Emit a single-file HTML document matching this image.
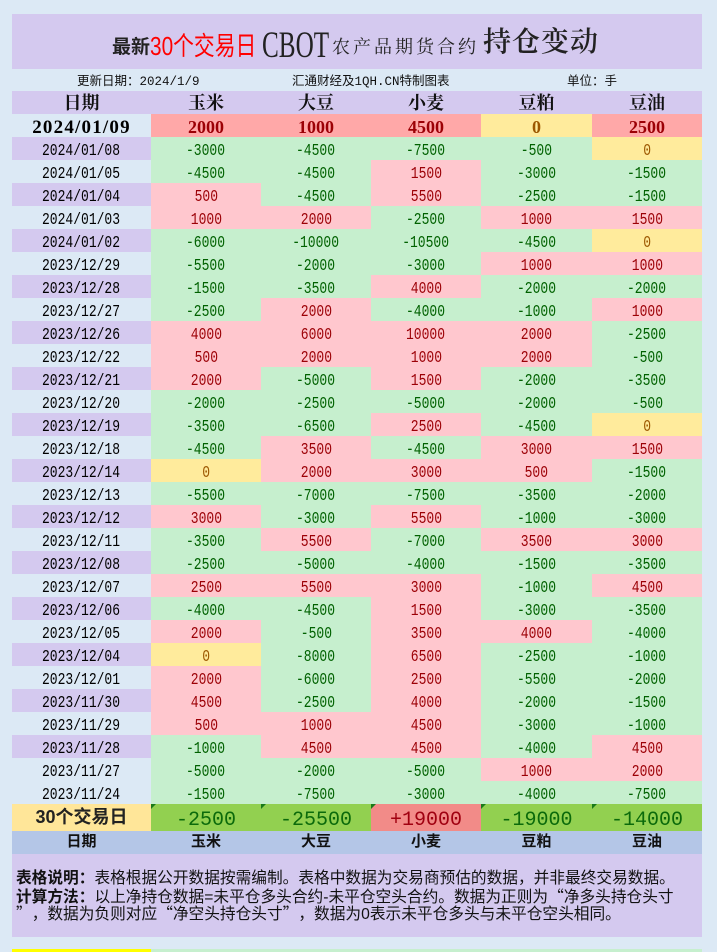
<!DOCTYPE html>
<html><head><meta charset="utf-8">
<style>
*{margin:0;padding:0;box-sizing:border-box}
html,body{width:717px;height:952px;overflow:hidden;background:#dce9f5}
body{position:relative;font-family:"Liberation Sans","Noto Sans CJK SC",sans-serif}
.abs{position:absolute;white-space:nowrap}
.title{left:12px;top:14px;width:690px;height:55px;background:#d4c9ef}
.seg{position:absolute;white-space:nowrap;line-height:1}
.row{position:absolute;left:12px;height:23px;display:flex;width:690px}
.row>div{height:100%;text-align:center;line-height:23px;overflow:hidden}
.row>div:nth-child(1){width:139px}
.row>div:nth-child(2){width:110px}
.row>div:nth-child(3){width:110px}
.row>div:nth-child(4){width:110px}
.row>div:nth-child(5){width:111px}
.row>div:nth-child(6){width:110px}
.dr>div{font-family:"Liberation Mono",monospace;font-size:17px}
.dr>div span{display:inline-block;transform:scaleX(.765);position:relative;top:2.5px}
.pu{background:#d4c9ef}
.p{background:#ffc7ce;color:#9c0006}
.g{background:#c6efce;color:#006100}
.y{background:#ffeb9c;color:#9c5700}
.hdr{top:91px;background:#d4c9ef}
.hdr>div{font-family:"Liberation Serif","Noto Serif CJK SC",serif;font-weight:bold;font-size:18px;color:#111}
.hdr>div span{position:relative;top:1px}
.first{top:114px}
.first>div{font-family:"Liberation Serif",serif;font-weight:bold;font-size:18px}
.first>div span{position:relative;top:2px}
.first .fd{font-size:19px;letter-spacing:1.2px;color:#000}
.first .p{background:#ffa8a8}
.sum{top:804px;height:27px}
.sum>div{line-height:27px;position:relative}
.sum .sd{background:#ffe699;font-family:"Liberation Sans","Noto Sans CJK SC",sans-serif;font-weight:bold;font-size:18px;color:#222}
.sum .sg{background:#92d050;color:#0b6a0b}
.sum .sp{background:#f28b88;color:#a00010}
.sum .v span{font-family:"Liberation Mono",monospace;font-size:20px;position:relative;top:3px}
.tri{position:absolute;left:0;top:0;width:0;height:0;border-top:5px solid #1a7a1a;border-right:5px solid transparent}
.bh{top:831px;background:#b4c6e7}
.bh>div{font-family:"Liberation Sans","Noto Sans CJK SC",sans-serif;font-weight:bold;font-size:15px;line-height:21px;color:#111}
.notes{left:12px;top:854px;width:690px;height:83px;background:#d4c9ef;overflow:hidden}
.nl{position:absolute;left:4px;height:17px;line-height:17px;font-size:15.7px;white-space:nowrap;color:#111;font-family:"Liberation Sans","Noto Sans CJK SC",sans-serif}
.ql{display:inline-block;width:1em;text-align:right;font-family:"Noto Sans CJK SC",sans-serif}
.qr{display:inline-block;width:1em;text-align:left;font-family:"Noto Sans CJK SC",sans-serif}
.info{top:71px;line-height:22px;font-size:12.5px;font-family:"Liberation Mono","Noto Sans CJK SC",monospace;color:#111}
</style></head><body>

<div class="abs title"></div>
<span class="seg" style="left:112px;top:38px;font-size:19px;font-weight:bold;font-family:'Liberation Sans','Noto Sans CJK SC',sans-serif;color:#222">最新</span>
<span class="seg" style="left:150px;top:32.5px;font-size:26px;color:#ff0000;font-family:'Liberation Sans','Noto Sans CJK SC',sans-serif;transform:scaleX(.80);transform-origin:left center">30个交易日</span>
<span class="seg" style="left:262px;top:26.5px;font-size:37px;color:#222;font-family:'Liberation Serif',serif;transform:scaleX(.68);transform-origin:left center">CBOT</span>
<span class="seg" style="left:332px;top:38px;font-size:18px;letter-spacing:3px;color:#222;font-family:'Liberation Serif','Noto Serif CJK SC',serif">农产品期货合约</span>
<span class="seg" style="left:483px;top:29px;font-size:28px;letter-spacing:1px;font-weight:600;color:#222;font-family:'Liberation Serif','Noto Serif CJK SC',serif">持仓变动</span>

<div class="abs info" style="left:77px">更新日期：2024/1/9</div>
<div class="abs info" style="left:292px">汇通财经及1QH.CN特制图表</div>
<div class="abs info" style="left:567px">单位：手</div>

<div class="row hdr"><div><span>日期</span></div><div><span>玉米</span></div><div><span>大豆</span></div><div><span>小麦</span></div><div><span>豆粕</span></div><div><span>豆油</span></div></div>

<div class="row first"><div class="fd"><span>2024/01/09</span></div><div class="p"><span>2000</span></div><div class="p"><span>1000</span></div><div class="p"><span>4500</span></div><div class="y"><span>0</span></div><div class="p"><span>2500</span></div></div>

<div class="row dr" style="top:137px"><div class="pu"><span>2024/01/08</span></div><div class="g"><span>-3000</span></div><div class="g"><span>-4500</span></div><div class="g"><span>-7500</span></div><div class="g"><span>-500</span></div><div class="y"><span>0</span></div></div>
<div class="row dr" style="top:160px"><div><span>2024/01/05</span></div><div class="g"><span>-4500</span></div><div class="g"><span>-4500</span></div><div class="p"><span>1500</span></div><div class="g"><span>-3000</span></div><div class="g"><span>-1500</span></div></div>
<div class="row dr" style="top:183px"><div class="pu"><span>2024/01/04</span></div><div class="p"><span>500</span></div><div class="g"><span>-4500</span></div><div class="p"><span>5500</span></div><div class="g"><span>-2500</span></div><div class="g"><span>-1500</span></div></div>
<div class="row dr" style="top:206px"><div><span>2024/01/03</span></div><div class="p"><span>1000</span></div><div class="p"><span>2000</span></div><div class="g"><span>-2500</span></div><div class="p"><span>1000</span></div><div class="p"><span>1500</span></div></div>
<div class="row dr" style="top:229px"><div class="pu"><span>2024/01/02</span></div><div class="g"><span>-6000</span></div><div class="g"><span>-10000</span></div><div class="g"><span>-10500</span></div><div class="g"><span>-4500</span></div><div class="y"><span>0</span></div></div>
<div class="row dr" style="top:252px"><div><span>2023/12/29</span></div><div class="g"><span>-5500</span></div><div class="g"><span>-2000</span></div><div class="g"><span>-3000</span></div><div class="p"><span>1000</span></div><div class="p"><span>1000</span></div></div>
<div class="row dr" style="top:275px"><div class="pu"><span>2023/12/28</span></div><div class="g"><span>-1500</span></div><div class="g"><span>-3500</span></div><div class="p"><span>4000</span></div><div class="g"><span>-2000</span></div><div class="g"><span>-2000</span></div></div>
<div class="row dr" style="top:298px"><div><span>2023/12/27</span></div><div class="g"><span>-2500</span></div><div class="p"><span>2000</span></div><div class="g"><span>-4000</span></div><div class="g"><span>-1000</span></div><div class="p"><span>1000</span></div></div>
<div class="row dr" style="top:321px"><div class="pu"><span>2023/12/26</span></div><div class="p"><span>4000</span></div><div class="p"><span>6000</span></div><div class="p"><span>10000</span></div><div class="p"><span>2000</span></div><div class="g"><span>-2500</span></div></div>
<div class="row dr" style="top:344px"><div><span>2023/12/22</span></div><div class="p"><span>500</span></div><div class="p"><span>2000</span></div><div class="p"><span>1000</span></div><div class="p"><span>2000</span></div><div class="g"><span>-500</span></div></div>
<div class="row dr" style="top:367px"><div class="pu"><span>2023/12/21</span></div><div class="p"><span>2000</span></div><div class="g"><span>-5000</span></div><div class="p"><span>1500</span></div><div class="g"><span>-2000</span></div><div class="g"><span>-3500</span></div></div>
<div class="row dr" style="top:390px"><div><span>2023/12/20</span></div><div class="g"><span>-2000</span></div><div class="g"><span>-2500</span></div><div class="g"><span>-5000</span></div><div class="g"><span>-2000</span></div><div class="g"><span>-500</span></div></div>
<div class="row dr" style="top:413px"><div class="pu"><span>2023/12/19</span></div><div class="g"><span>-3500</span></div><div class="g"><span>-6500</span></div><div class="p"><span>2500</span></div><div class="g"><span>-4500</span></div><div class="y"><span>0</span></div></div>
<div class="row dr" style="top:436px"><div><span>2023/12/18</span></div><div class="g"><span>-4500</span></div><div class="p"><span>3500</span></div><div class="g"><span>-4500</span></div><div class="p"><span>3000</span></div><div class="p"><span>1500</span></div></div>
<div class="row dr" style="top:459px"><div class="pu"><span>2023/12/14</span></div><div class="y"><span>0</span></div><div class="p"><span>2000</span></div><div class="p"><span>3000</span></div><div class="p"><span>500</span></div><div class="g"><span>-1500</span></div></div>
<div class="row dr" style="top:482px"><div><span>2023/12/13</span></div><div class="g"><span>-5500</span></div><div class="g"><span>-7000</span></div><div class="g"><span>-7500</span></div><div class="g"><span>-3500</span></div><div class="g"><span>-2000</span></div></div>
<div class="row dr" style="top:505px"><div class="pu"><span>2023/12/12</span></div><div class="p"><span>3000</span></div><div class="g"><span>-3000</span></div><div class="p"><span>5500</span></div><div class="g"><span>-1000</span></div><div class="g"><span>-3000</span></div></div>
<div class="row dr" style="top:528px"><div><span>2023/12/11</span></div><div class="g"><span>-3500</span></div><div class="p"><span>5500</span></div><div class="g"><span>-7000</span></div><div class="p"><span>3500</span></div><div class="p"><span>3000</span></div></div>
<div class="row dr" style="top:551px"><div class="pu"><span>2023/12/08</span></div><div class="g"><span>-2500</span></div><div class="g"><span>-5000</span></div><div class="g"><span>-4000</span></div><div class="g"><span>-1500</span></div><div class="g"><span>-3500</span></div></div>
<div class="row dr" style="top:574px"><div><span>2023/12/07</span></div><div class="p"><span>2500</span></div><div class="p"><span>5500</span></div><div class="p"><span>3000</span></div><div class="g"><span>-1000</span></div><div class="p"><span>4500</span></div></div>
<div class="row dr" style="top:597px"><div class="pu"><span>2023/12/06</span></div><div class="g"><span>-4000</span></div><div class="g"><span>-4500</span></div><div class="p"><span>1500</span></div><div class="g"><span>-3000</span></div><div class="g"><span>-3500</span></div></div>
<div class="row dr" style="top:620px"><div><span>2023/12/05</span></div><div class="p"><span>2000</span></div><div class="g"><span>-500</span></div><div class="p"><span>3500</span></div><div class="p"><span>4000</span></div><div class="g"><span>-4000</span></div></div>
<div class="row dr" style="top:643px"><div class="pu"><span>2023/12/04</span></div><div class="y"><span>0</span></div><div class="g"><span>-8000</span></div><div class="p"><span>6500</span></div><div class="g"><span>-2500</span></div><div class="g"><span>-1000</span></div></div>
<div class="row dr" style="top:666px"><div><span>2023/12/01</span></div><div class="p"><span>2000</span></div><div class="g"><span>-6000</span></div><div class="p"><span>2500</span></div><div class="g"><span>-5500</span></div><div class="g"><span>-2000</span></div></div>
<div class="row dr" style="top:689px"><div class="pu"><span>2023/11/30</span></div><div class="p"><span>4500</span></div><div class="g"><span>-2500</span></div><div class="p"><span>4000</span></div><div class="g"><span>-2000</span></div><div class="g"><span>-1500</span></div></div>
<div class="row dr" style="top:712px"><div><span>2023/11/29</span></div><div class="p"><span>500</span></div><div class="p"><span>1000</span></div><div class="p"><span>4500</span></div><div class="g"><span>-3000</span></div><div class="g"><span>-1000</span></div></div>
<div class="row dr" style="top:735px"><div class="pu"><span>2023/11/28</span></div><div class="g"><span>-1000</span></div><div class="p"><span>4500</span></div><div class="p"><span>4500</span></div><div class="g"><span>-4000</span></div><div class="p"><span>4500</span></div></div>
<div class="row dr" style="top:758px"><div><span>2023/11/27</span></div><div class="g"><span>-5000</span></div><div class="g"><span>-2000</span></div><div class="g"><span>-5000</span></div><div class="p"><span>1000</span></div><div class="p"><span>2000</span></div></div>
<div class="row dr" style="top:781px"><div><span>2023/11/24</span></div><div class="g"><span>-1500</span></div><div class="g"><span>-7500</span></div><div class="g"><span>-3000</span></div><div class="g"><span>-4000</span></div><div class="g"><span>-7500</span></div></div>

<div class="row sum"><div class="sd">30个交易日</div><div class="sg v"><i class="tri"></i><span>-2500</span></div><div class="sg v"><i class="tri"></i><span>-25500</span></div><div class="sp v"><i class="tri"></i><span>+19000</span></div><div class="sg v"><i class="tri"></i><span>-19000</span></div><div class="sg v"><i class="tri"></i><span>-14000</span></div></div>

<div class="row bh"><div>日期</div><div>玉米</div><div>大豆</div><div>小麦</div><div>豆粕</div><div>豆油</div></div>

<div class="abs notes">
<div class="nl" style="top:16px"><b>表格说明：</b>表格根据公开数据按需编制。表格中数据为交易商预估的数据，并非最终交易数据。</div>
<div class="nl" style="top:33px"><b>计算方法：</b>以上净持仓数据=未平仓多头合约-未平仓空头合约。数据为正则为<span class="ql">“</span>净多头持仓头寸</div>
<div class="nl" style="top:50px"><span class="qr">”</span>，数据为负则对应<span class="ql">“</span>净空头持仓头寸<span class="qr">”</span>，数据为0表示未平仓多头与未平仓空头相同。</div>
</div>

<div class="abs" style="left:12px;top:949px;width:139px;height:3px;background:#ffff00"></div>
<div class="abs" style="left:151px;top:949px;width:551px;height:3px;background:#c6efce"></div>
</body></html>
